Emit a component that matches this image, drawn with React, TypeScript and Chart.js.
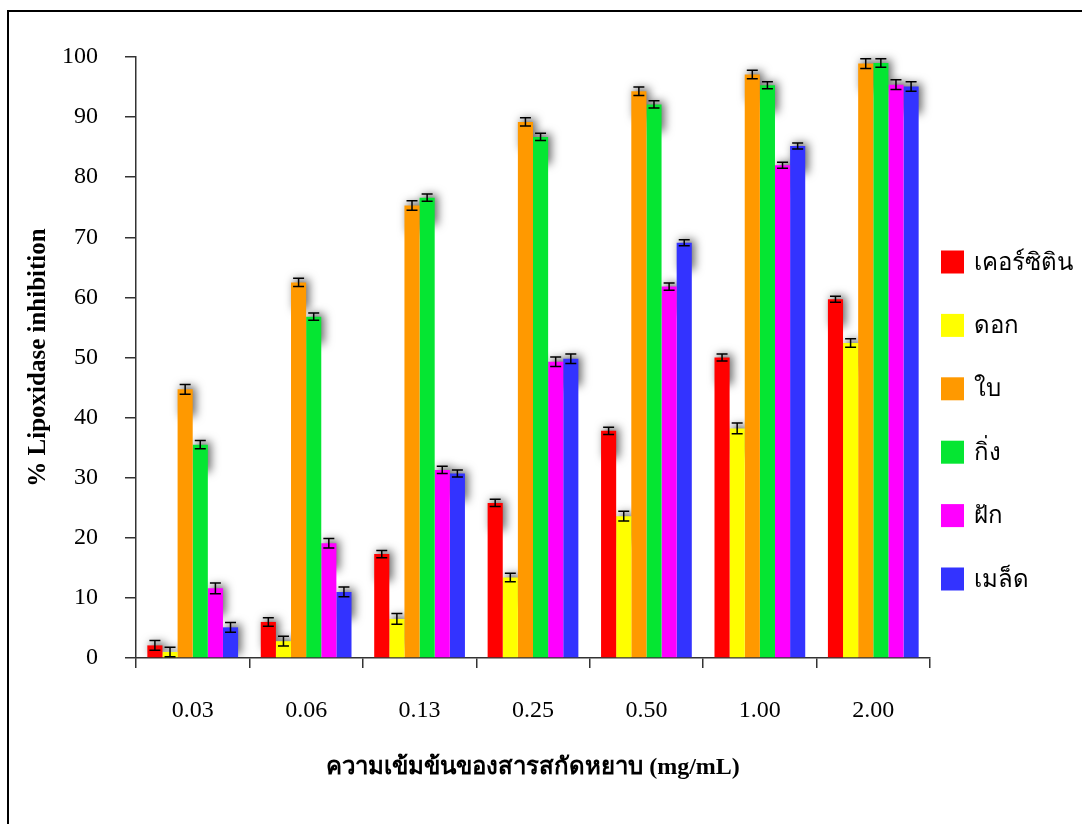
import React, { useEffect, useRef } from "react";
import { Chart, registerables } from "chart.js";

Chart.register(...registerables);

const categories = ["0.03", "0.06", "0.13", "0.25", "0.50", "1.00", "2.00"];
const seriesLabels = ["เคอร์ซิติน", "ดอก", "ใบ", "กิ่ง", "ฝัก", "เมล็ด"];
const seriesColors = ["#FF0000", "#FFFF00", "#FF9900", "#05E632", "#FF00FF", "#3333FF"];

const quercetin = [2.1, 6.0, 17.3, 25.8, 37.8, 50.0, 59.7];
const flower = [1.0, 2.8, 6.5, 13.4, 23.6, 38.2, 52.4];
const leaf = [44.7, 62.5, 75.3, 89.2, 94.3, 97.1, 98.9];
const branch = [35.5, 56.8, 76.6, 86.7, 92.1, 95.3, 99.0];
const pod = [11.6, 19.1, 31.3, 49.3, 61.8, 82.0, 95.4];
const seed = [5.1, 11.0, 30.7, 49.8, 69.1, 85.2, 95.1];

const quercetinErr = [0.8, 0.7, 0.6, 0.6, 0.6, 0.6, 0.5];
const flowerErr = [0.8, 0.8, 0.9, 0.7, 0.8, 0.9, 0.7];
const leafErr = [0.8, 0.7, 0.8, 0.7, 0.7, 0.7, 0.8];
const branchErr = [0.7, 0.6, 0.6, 0.6, 0.6, 0.6, 0.7];
const podErr = [0.9, 0.8, 0.6, 0.8, 0.6, 0.5, 0.8];
const seedErr = [0.8, 0.8, 0.6, 0.8, 0.5, 0.5, 0.8];

const yTitle = "% Lipoxidase inhibition";
const xTitle = "ความเข้มข้นของสารสกัดหยาบ (mg/mL)";

const seriesValues = [quercetin, flower, leaf, branch, pod, seed];
const seriesErrors = [quercetinErr, flowerErr, leafErr, branchErr, podErr, seedErr];

const SERIF = '"Liberation Serif", "Times New Roman", serif';
const LEGEND_FONT = '24px "Liberation Sans", "Noto Sans", sans-serif';

const shadowAndErrorPlugin = {
  id: "shadowAndError",
  beforeDatasetsDraw(chart: any) {
    const ctx = chart.ctx;
    const area = chart.chartArea;
    ctx.save();
    ctx.beginPath();
    ctx.rect(area.left, area.top - 20, area.right - area.left + 20, area.bottom - area.top + 20);
    ctx.clip();
    chart.data.datasets.forEach((_: any, di: number) => {
      const meta = chart.getDatasetMeta(di);
      meta.data.forEach((bar: any) => {
        const { x, y, base, width } = bar.getProps(["x", "y", "base", "width"], true);
        const h = Math.min(30, base - y);
        const far = 10000;
        ctx.shadowColor = "rgba(0,0,0,0.6)";
        ctx.shadowBlur = 10;
        ctx.shadowOffsetX = far + 3;
        ctx.shadowOffsetY = -3;
        ctx.fillStyle = "#000";
        ctx.fillRect(x - width / 2 - far, y, width, h);
      });
    });
    ctx.restore();
  },
  afterDatasetsDraw(chart: any) {
    const ctx = chart.ctx;
    const yScale = chart.scales.y;
    ctx.save();
    ctx.strokeStyle = "#000";
    ctx.lineWidth = 1.5;
    chart.data.datasets.forEach((ds: any, di: number) => {
      const meta = chart.getDatasetMeta(di);
      const errs = seriesErrors[di];
      meta.data.forEach((bar: any, i: number) => {
        const v = ds.data[i];
        const e = errs[i];
        const x = bar.x;
        const yt = yScale.getPixelForValue(v + e);
        const yb = yScale.getPixelForValue(Math.max(0, v - e));
        const cap = 5.5;
        ctx.beginPath();
        ctx.moveTo(x, yt);
        ctx.lineTo(x, yb);
        ctx.moveTo(x - cap, yt);
        ctx.lineTo(x + cap, yt);
        ctx.moveTo(x - cap, yb);
        ctx.lineTo(x + cap, yb);
        ctx.stroke();
      });
    });
    ctx.restore();
  },
};

const legendPlugin = {
  id: "sideLegend",
  afterDraw(chart: any) {
    const ctx = chart.ctx;
    const area = chart.chartArea;
    const x0 = area.right + 11;
    const y0 = area.top + 205;
    const step = 63.4;
    const box = 23;
    ctx.save();
    ctx.font = LEGEND_FONT;
    ctx.textBaseline = "middle";
    ctx.textAlign = "left";
    chart.data.datasets.forEach((ds: any, i: number) => {
      const cy = y0 + i * step;
      ctx.fillStyle = ds.backgroundColor;
      ctx.fillRect(x0, cy - box / 2, box, box);
      ctx.fillStyle = "#000";
      ctx.fillText(ds.label, x0 + 33, cy + 1);
    });
    ctx.restore();
  },
};

export default function App() {
  const ref = useRef<HTMLCanvasElement | null>(null);

  useEffect(() => {
    if (!ref.current) return;
    const chart = new Chart(ref.current, {
      type: "bar",
      data: {
        labels: categories,
        datasets: seriesLabels.map((label, i) => ({
          label,
          data: seriesValues[i],
          backgroundColor: seriesColors[i],
          borderWidth: 0,
          categoryPercentage: 0.8,
          barPercentage: 1.0,
        })),
      },
      options: {
        responsive: false,
        animation: false,
        layout: { padding: { top: 45, right: 152, bottom: 0, left: 0 } },
        plugins: {
          legend: { display: false },
          tooltip: { enabled: false },
        },
        scales: {
          x: {
            grid: {
              drawOnChartArea: false,
              offset: true,
              tickLength: 10,
              tickColor: "#333",
              lineWidth: 1.5,
            },
            border: { color: "#333", width: 1.5 },
            ticks: { font: { family: SERIF, size: 24 }, color: "#000", padding: 28 },
            title: {
              display: true,
              text: xTitle,
              color: "#000",
              font: { family: SERIF, size: 24, weight: "bold" },
              padding: { top: 0, bottom: 42 },
            },
            afterFit: (s: any) => {
              s.height = 166;
            },
          },
          y: {
            min: 0,
            max: 100,
            grid: {
              drawOnChartArea: false,
              tickLength: 11,
              tickColor: "#333",
              lineWidth: 1.5,
            },
            border: { color: "#333", width: 1.5 },
            ticks: { stepSize: 10, font: { family: SERIF, size: 24 }, color: "#000", padding: 27 },
            title: {
              display: true,
              text: yTitle,
              color: "#000",
              font: { family: SERIF, size: 25, weight: "bold" },
              padding: { top: 15, bottom: 0 },
            },
            afterFit: (s: any) => {
              s.width = 127;
            },
          },
        },
      },
      plugins: [shadowAndErrorPlugin, legendPlugin],
    });
    return () => chart.destroy();
  }, []);

  return (
    <div style={{ position: "fixed", inset: 0, overflow: "hidden", background: "#fff" }}>
      <div
        style={{
          position: "absolute",
          left: 7,
          top: 10,
          width: 1200,
          height: 900,
          border: "2px solid #000",
          boxSizing: "border-box",
        }}
      >
        <canvas ref={ref} width={1073} height={812} style={{ display: "block" }} />
      </div>
    </div>
  );
}
